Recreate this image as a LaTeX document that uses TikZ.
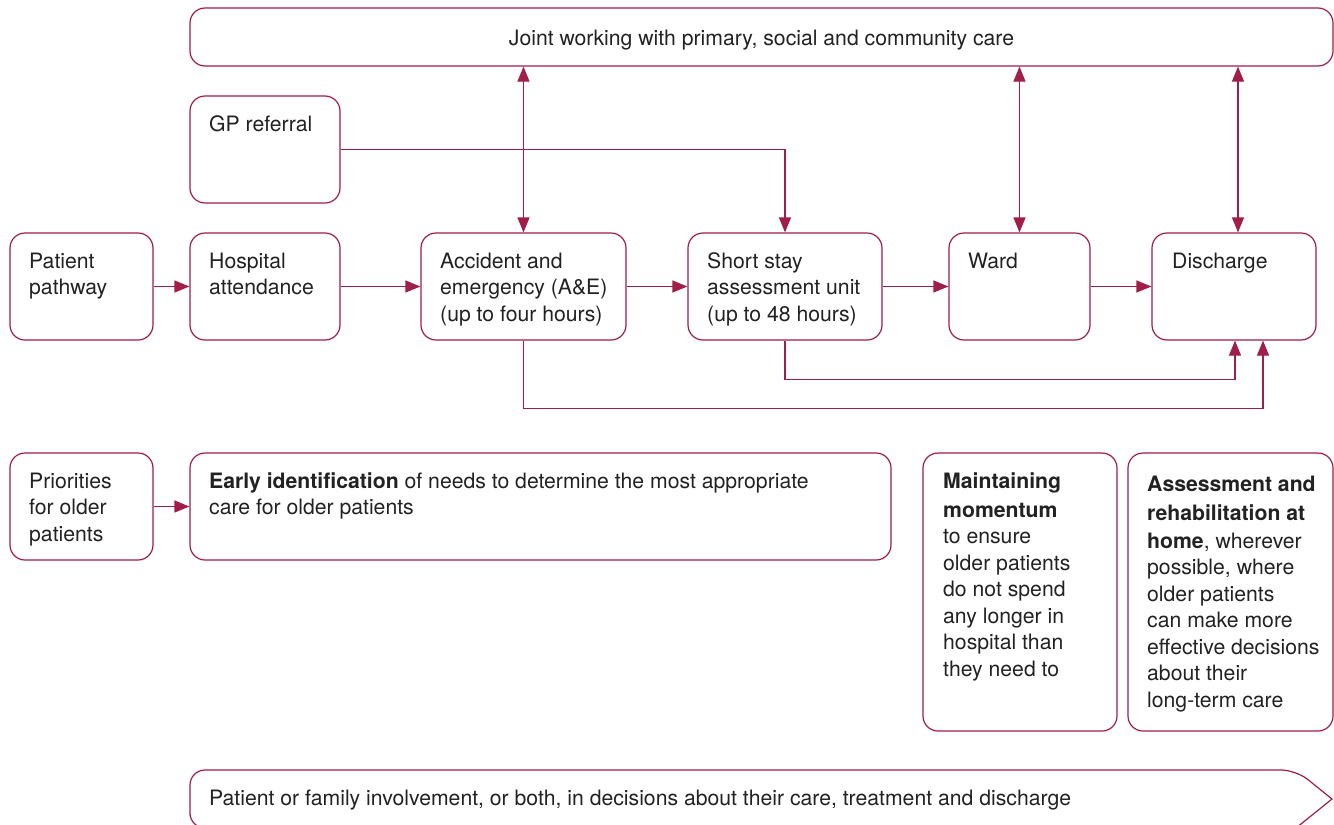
\documentclass[tikz,border=0pt]{standalone}
\usepackage{fontspec}
\setmainfont{TeX Gyre Heros}
\usetikzlibrary{arrows.meta}
\definecolor{crim}{RGB}{160,30,72}
\definecolor{ink}{RGB}{34,34,34}
\newcommand{\mlines}[1]{\begin{tabular}[t]{@{}l@{}}#1\end{tabular}}
\tikzset{
  box/.style={draw=crim, line width=1.2pt, rounded corners=15pt, inner sep=0pt, fill=white},
  txt/.style={anchor=base west, inner sep=0pt, text=ink, font=\fontsize{21.2}{26.5}\selectfont},
  arr/.style={draw=crim, line width=1.2pt, -{Triangle[length=15pt,width=12pt]}},
  darr/.style={draw=crim, line width=1.2pt, {Triangle[length=15pt,width=12pt]}-{Triangle[length=15pt,width=12pt]}},
  outl/.style={draw=crim, line width=1.2pt}
}
\begin{document}
\begin{tikzpicture}[x=1pt,y=-1pt]
\clip (0,0) rectangle (1334,825);
\fill[white] (0,0) rectangle (1334,825);
% boxes
\node[box, minimum width=1143pt, minimum height=58pt] (bjoint) at (761.5,37) {};
\node[box, minimum width=150pt, minimum height=107pt] (bgp) at (265,149.5) {};
\node[box, minimum width=143pt, minimum height=107pt] (bpp) at (81.5,286.5) {};
\node[box, minimum width=150pt, minimum height=107pt] (bha) at (265,286.5) {};
\node[box, minimum width=205pt, minimum height=107pt] (bae) at (523.5,286.5) {};
\node[box, minimum width=194pt, minimum height=107pt] (bss) at (785,286.5) {};
\node[box, minimum width=141pt, minimum height=107pt] (bwd) at (1019.5,286.5) {};
\node[box, minimum width=164pt, minimum height=107pt] (bdc) at (1234,286.5) {};
\node[box, minimum width=143pt, minimum height=107pt] (bpr) at (81.5,506.5) {};
\node[box, minimum width=701pt, minimum height=107pt] (bei) at (540.5,506.5) {};
\node[box, minimum width=194pt, minimum height=278pt] (bmm) at (1020,592) {};
\node[box, minimum width=205pt, minimum height=278pt] (bas) at (1230.5,592) {};
% bottom arrow shape
\draw[outl, rounded corners=15pt] (190,800) -- (190,770) -- (1296,770) [sharp corners] -- (1332,799) -- (1296,828) [rounded corners=15pt] -- (190,828) -- cycle;
% texts
\node[txt, anchor=base] (tjoint) at (761.5,45) {Joint working with primary, social and community care};
\node[txt] (tgp) at (209,131) {GP referral};
\node[txt] (tpp) at (29,268) {\mlines{Patient\\pathway}};
\node[txt] (tha) at (209,268) {\mlines{Hospital\\attendance}};
\node[txt] (tae) at (440,268) {\mlines{Accident and\\emergency (A\&E)\\(up to four hours)}};
\node[txt] (tss) at (707,268) {\mlines{Short stay\\assessment unit\\(up to 48 hours)}};
\node[txt] (twd) at (968,268) {Ward};
\node[txt] (tdc) at (1172,268) {Discharge};
\node[txt] (tpr) at (29,488) {\mlines{Priorities\\for older\\patients}};
\node[txt] (tei) at (209,488) {\mlines{\textbf{Early identification} of needs to determine the most appropriate\\care for older patients}};
\node[txt] (tmm) at (943,488) {\mlines{\textbf{Maintaining}\\[2.5pt]\textbf{momentum}\\to ensure\\older patients\\do not spend\\any longer in\\hospital than\\they need to}};
\node[txt] (tas) at (1147,491) {\mlines{\textbf{Assessment and}\\[2.5pt]\textbf{rehabilitation at}\\[1.5pt]\textbf{home}, wherever\\possible, where\\older patients\\can make more\\effective decisions\\about their\\long-term care}};
\node[txt] (tpf) at (209,805) {Patient or family involvement, or both, in decisions about their care, treatment and discharge};
% connectors
\draw[arr] (bpp.east) -- (bha.west);
\draw[arr] (bha.east) -- (bae.west);
\draw[arr] (bae.east) -- (bss.west);
\draw[arr] (bss.east) -- (bwd.west);
\draw[arr] (bwd.east) -- (bdc.west);
\draw[arr] (bpr.east) -- (bei.west);
\draw[darr] (bae.north) -- (bae.north |- bjoint.south);
\draw[darr] (bwd.north) -- (bwd.north |- bjoint.south);
\coordinate (dctop) at ([xshift=4pt]bdc.north);
\draw[darr] (dctop) -- (dctop |- bjoint.south);
\draw[arr] (bgp.east) -| (bss.north);
\coordinate (dcb1) at ([xshift=1pt]bdc.south);
\coordinate (dcb2) at ([xshift=29pt]bdc.south);
\draw[arr] (bss.south) -- ++(0,39) -| (dcb1);
\draw[arr] (bae.south) -- ++(0,68) -| (dcb2);
\end{tikzpicture}
\end{document}
